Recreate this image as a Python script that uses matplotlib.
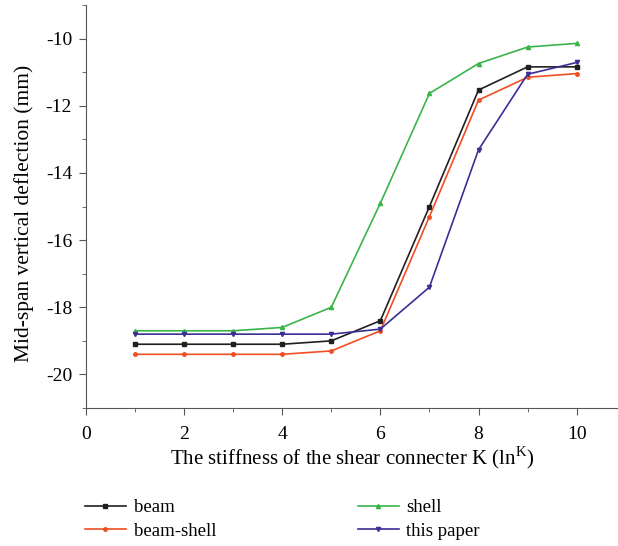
import matplotlib.pyplot as plt
from matplotlib.ticker import MultipleLocator

plt.rcParams['font.family'] = ['Liberation Serif', 'DejaVu Serif']
plt.rcParams['axes.unicode_minus'] = False
plt.rcParams['mathtext.fontset'] = 'custom'
plt.rcParams['mathtext.rm'] = 'Liberation Serif'

k = [1, 2, 3, 4, 5, 6, 7, 8, 9, 10]
beam = [-19.1, -19.1, -19.1, -19.1, -19.0, -18.4, -15.0, -11.53, -10.84, -10.84]
beam_shell = [-19.4, -19.4, -19.4, -19.4, -19.3, -18.7, -15.3, -11.83, -11.15, -11.04]
shell = [-18.7, -18.7, -18.7, -18.6, -18.0, -14.9, -11.63, -10.74, -10.25, -10.14]
this_paper = [-18.8, -18.8, -18.8, -18.8, -18.8, -18.65, -17.4, -13.31, -11.06, -10.71]

fig = plt.figure(figsize=(6.18, 5.46), dpi=100)
ax = fig.add_axes([0.139, 0.2527, 0.86, 0.738])

ax.plot(k, beam, color='#231f20', marker='s', markersize=2.5, lw=1.2, label='beam')
ax.plot(k, beam_shell, color='#f04e23', marker='o', markersize=2.5, lw=1.2, label='beam-shell')
ax.plot(k, shell, color='#3ab54a', marker='^', markersize=3, lw=1.2, label='shell')
ax.plot(k, this_paper, color='#3a2f96', marker='v', markersize=3, lw=1.2, label='this paper')

ax.set_xlim(0, 10.83)
ax.set_ylim(-21, -9)
ax.xaxis.set_major_locator(MultipleLocator(2))
ax.xaxis.set_minor_locator(MultipleLocator(1))
ax.yaxis.set_major_locator(MultipleLocator(2))
ax.yaxis.set_minor_locator(MultipleLocator(1))
ax.spines['top'].set_visible(False)
ax.spines['right'].set_visible(False)
for s in ['left', 'bottom']:
    ax.spines[s].set_color('#555555')
ax.tick_params(which='major', direction='out', length=5, labelsize=14, color='#555555', pad=5)
ax.tick_params(axis='x', which='major', pad=8)
ax.tick_params(which='minor', direction='out', length=3, color='#555555')

ax.set_xlabel('The stiffness of the shear connecter K (ln$^{\\mathrm{K}}$)', fontsize=15, labelpad=1)
ax.set_ylabel('Mid-span vertical deflection (mm)', fontsize=15.5)
ax.yaxis.set_label_coords(-0.097, 0.484)

fig.legend(loc='upper left', bbox_to_anchor=(0.11, 0.117), ncol=2, frameon=False,
           fontsize=13.5, columnspacing=7.55, handlelength=2.2, labelspacing=0.35,
           handletextpad=0.4)

plt.savefig('out.png', dpi=100)
